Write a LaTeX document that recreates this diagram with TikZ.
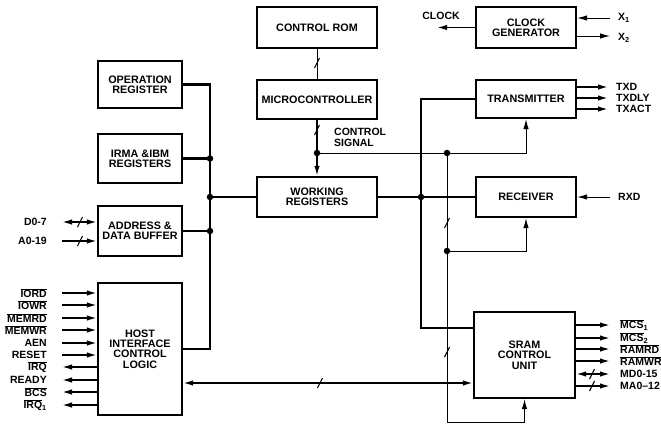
\documentclass[tikz,border=0pt]{standalone}
\usepackage{fontspec}
\setmainfont{Liberation Sans}
\usetikzlibrary{arrows.meta,calc}
\begin{document}
\begin{tikzpicture}[x=1pt,y=-1pt,
  blk/.style={draw,line width=2.3pt,inner sep=1pt,align=center,font=\fontsize{10.8}{10.3}\selectfont\bfseries},
  lbl/.style={inner sep=0pt,font=\fontsize{10.5}{10.5}\selectfont\bfseries},
  bus/.style={line width=2.3pt},
  med/.style={line width=1.6pt},
  sig/.style={line width=1pt},
  tip/.style={-{Latex[length=10pt,width=5.5pt]}},
  dtip/.style={{Latex[length=10pt,width=5.5pt]}-{Latex[length=10pt,width=5.5pt]}},
  slashmark/.style={line width=1.1pt},
  dot/.style={circle,fill,inner sep=0pt,minimum size=6.5pt}]
\useasboundingbox (0,0) rectangle (661,424);

% blocks
\node[blk,minimum width=120pt,minimum height=41pt] (rom) at (317,27.5) {CONTROL ROM};
\node[blk,minimum width=120pt,minimum height=39pt] (mc) at (317,99.5) {MICROCONTROLLER};
\node[blk,minimum width=120pt,minimum height=40pt] (wr) at (317,197) {WORKING\\REGISTERS};
\node[blk,minimum width=84pt,minimum height=47pt] (opreg) at (140,84.5) {OPERATION\\REGISTER};
\node[blk,minimum width=84pt,minimum height=49pt] (irma) at (140,158.5) {IRMA \&IBM\\REGISTERS};
\node[blk,minimum width=84pt,minimum height=50pt] (adb) at (140,231) {ADDRESS \&\\DATA BUFFER};
\node[blk,minimum width=84pt,minimum height=132pt] (host) at (140,349) {HOST\\INTERFACE\\CONTROL\\LOGIC};
\node[blk,minimum width=100pt,minimum height=41pt] (clk) at (526,27.5) {CLOCK\\GENERATOR};
\node[blk,minimum width=100pt,minimum height=38pt] (tx) at (526,99) {TRANSMITTER};
\node[blk,minimum width=100pt,minimum height=40pt] (rx) at (526,197) {RECEIVER};
\node[blk,minimum width=101pt,minimum height=86pt] (sram) at (524.5,355) {SRAM\\CONTROL\\UNIT};

% left bus
\coordinate (lbt) at (210,85);
\coordinate (lbb) at (210,349);
\draw[bus] (opreg.east) -| (lbb) -- (host.east);
\draw[bus] (irma.east) -- (irma.east -| lbt) node[dot] (j1) {};
\draw[bus] (adb.east) -- (adb.east -| lbt) node[dot] (j2) {};
\draw[bus] (wr.west) -- (wr.west -| lbt) node[dot] (j3) {};

% rom -> mc, mc -> wr
\draw[sig] (rom.south) -- (mc.north);
\draw[med,tip] (mc.south) -- (wr.north);
\coordinate (cs) at (317,153);
\node[dot] (csd) at (cs) {};
\draw[sig,tip] (cs) -| (tx.south);
\node[lbl,anchor=west,align=left] (cslab) at (334,137.5) {CONTROL\\SIGNAL};

% right bus
\coordinate (rbt) at (421,99);
\coordinate (rbb) at (421,328);
\coordinate (srw) at (474,328);
\draw[bus] (tx.west) -- (rbt) -- (rbb) -- (srw);
\draw[bus] (wr.east) -- (rx.west);
\node[dot] (j4) at (421,197) {};

% thin control line
\coordinate (tj) at (447,153);
\coordinate (tb) at (447,422);
\coordinate (rj) at (447,251);
\draw[sig,tip] (tj) -- (tb) -| (sram.south);
\draw[sig,tip] (rj) -| (rx.south);
\node[dot] (tjd) at (tj) {};
\node[dot] (rjd) at (rj) {};

% host bus
\coordinate (hb) at (0,383);
\draw[med,dtip] (host.east |- hb) -- (sram.west |- hb);

% clock
\coordinate (clkout) at (437,27.5);
\draw[med,tip] (clk.west) -- (clkout);
\node[lbl] (clklab) at (441,16) {CLOCK};
\coordinate (x1c) at (610,18);
\coordinate (x2c) at (610,36);
\draw[sig,tip] (x1c) -- (x1c -| clk.east);
\draw[sig,tip] (x2c -| clk.east) -- (x2c);
\node[lbl,anchor=west] (x1l) at (618,18) {X\textsubscript{1}};
\node[lbl,anchor=west] (x2l) at (618,38) {X\textsubscript{2}};

% transmitter outputs
\foreach \yy/\tt/\nn in {87/TXD/txd,98/TXDLY/txdly,109/TXACT/txact}{
  \coordinate (c\nn) at (608,\yy);
  \draw[med,tip] (c\nn -| tx.east) -- (c\nn);
  \node[lbl,anchor=west] (l\nn) at (616,\yy) {\tt};
}
% receiver input
\coordinate (crxd) at (610,197);
\draw[sig,tip] (crxd) -- (crxd -| rx.east);
\node[lbl,anchor=west] (lrxd) at (618,197) {RXD};

% SRAM outputs
\foreach \yy/\tt/\nn in {325/{$\overline{\hbox{MCS}}$\textsubscript{1}}/mcsa,338/{$\overline{\hbox{MCS}}$\textsubscript{2}}/mcsb,349/{$\overline{\hbox{RAMRD}}$}/ramrd,361/{$\overline{\hbox{RAMWR}}$}/ramwr}{
  \coordinate (c\nn) at (610,\yy);
  \draw[med,tip] (c\nn -| sram.east) -- (c\nn);
  \node[lbl,anchor=west] (l\nn) at (620,\yy) {\tt};
}
\coordinate (cmd) at (610,374);
\draw[med,dtip] (cmd -| sram.east) -- (cmd);
\node[lbl,anchor=west] (lmd) at (620,374) {MD0-15};
\coordinate (cma) at (610,386);
\draw[med,tip] (cma -| sram.east) -- (cma);
\node[lbl,anchor=west] (lma) at (620,386) {MA0--12};

% data/address
\coordinate (cd) at (62,222);
\coordinate (ca) at (62,241);
\draw[med,dtip] (cd) -- (cd -| adb.west);
\draw[med,tip] (ca) -- (ca -| adb.west);
\node[lbl,anchor=east] (ld) at (47,222) {D0-7};
\node[lbl,anchor=east] (la) at (47,241) {A0-19};

% host signals
\foreach \yy/\tt/\nn in {293/{$\overline{\hbox{IORD}}$}/iord,305/{$\overline{\hbox{IOWR}}$}/iowr,318/{$\overline{\hbox{MEMRD}}$}/memrd,330/{$\overline{\hbox{MEMWR}}$}/memwr,343/AEN/aen,355/RESET/reset}{
  \coordinate (c\nn) at (62,\yy);
  \draw[med,tip] (c\nn) -- (c\nn -| host.west);
  \node[lbl,anchor=east] (l\nn) at (47,\yy) {\tt};
}
\foreach \yy/\tt/\nn in {367/{$\overline{\hbox{IRQ}}$}/irq,380/READY/ready,392/{$\overline{\hbox{BCS}}$}/bcs,405/{$\overline{\hbox{IRQ}}$\textsubscript{1}}/irqa}{
  \coordinate (c\nn) at (62,\yy);
  \draw[med,tip] (c\nn -| host.west) -- (c\nn);
  \node[lbl,anchor=east] (l\nn) at (47,\yy) {\tt};
}

% slash marks
\foreach \sx/\sy in {317/63,317/130,447/223,447/352,320/383,80/222,80/241,592/374,592/386}
  \draw[slashmark] (\sx-2.5,\sy+5) -- (\sx+2.5,\sy-5);
\end{tikzpicture}
\end{document}
